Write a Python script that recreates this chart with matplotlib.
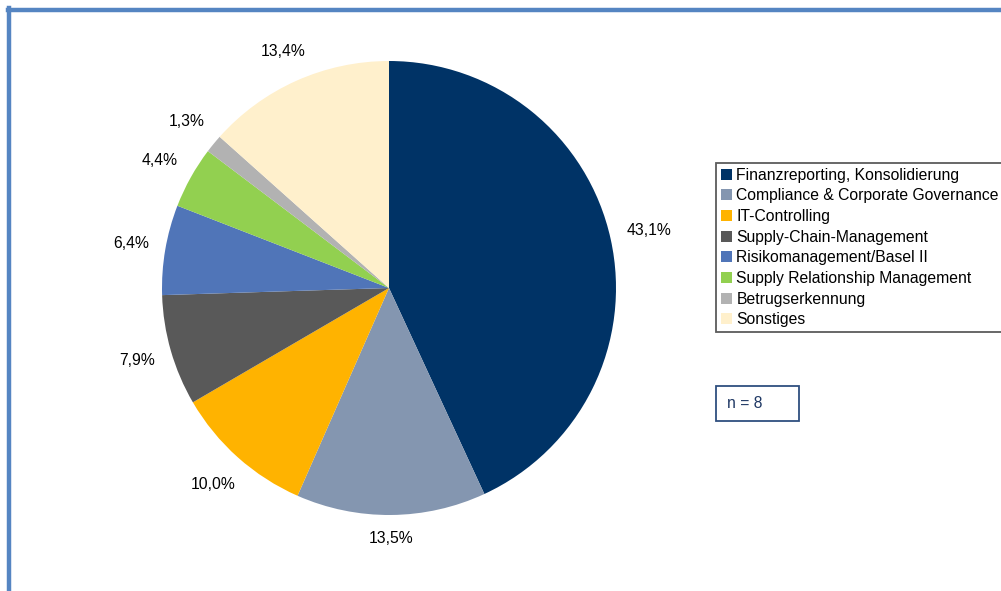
import numpy as np
import matplotlib.pyplot as plt
from matplotlib.patches import Rectangle
from matplotlib.lines import Line2D

plt.rcParams['font.family'] = ['Liberation Sans', 'DejaVu Sans']

categories = ['Finanzreporting, Konsolidierung', 'Compliance & Corporate Governance',
              'IT-Controlling', 'Supply-Chain-Management', 'Risikomanagement/Basel II',
              'Supply Relationship Management', 'Betrugserkennung', 'Sonstiges']
shares = [43.1, 13.5, 10.0, 7.9, 6.4, 4.4, 1.3, 13.4]
colors = ['#003366', '#8496B0', '#FFB300', '#595959', '#5075B8', '#92D050', '#B2B2B2', '#FFF0CC']
sample_note = 'n = 8'

W, H = 1001, 591
fig = plt.figure(figsize=(W / 100, H / 100), dpi=100)

# pie centre and radius in pixels
cx, cy, r = 389, 288, 227
lim = 1.3
side = 2 * r * lim
ax = fig.add_axes([(cx - side / 2) / W, (H - cy - side / 2) / H, side / W, side / H])
wedges, texts, autotexts = ax.pie(
    shares, colors=colors, startangle=90, counterclock=False, radius=1,
    wedgeprops=dict(linewidth=0),
    autopct=lambda p: f'{p:.1f}%'.replace('.', ','), pctdistance=1.15,
    textprops=dict(fontsize=11.3, color='black'))
ax.set_xlim(-lim, lim)
ax.set_ylim(-lim, lim)
ax.axis('off')

# push each label out so its box sits a fixed gap outside the rim
gap = 16 / r
renderer = fig.canvas.get_renderer()
for w, t in zip(wedges, autotexts):
    ang = np.deg2rad((w.theta1 + w.theta2) / 2)
    bb = t.get_window_extent(renderer)
    half_w, half_h = bb.width / 2 / r, bb.height / 2 / r
    d = 1 + gap + abs(np.cos(ang)) * half_w + abs(np.sin(ang)) * half_h
    t.set_position((d * np.cos(ang), d * np.sin(ang)))

leg = fig.legend(wedges, categories, loc='upper left',
                 bbox_to_anchor=(716 / W, 1 - 163 / H), fontsize=11.3,
                 frameon=True, fancybox=False, edgecolor='#333333',
                 handlelength=0.7, handleheight=0.7, handletextpad=0.3,
                 labelspacing=0.36, borderpad=0.3, borderaxespad=0)
leg.get_frame().set_linewidth(1.3)

# sample size box
fig.patches.append(Rectangle((716 / W, 1 - 421 / H), 83 / W, 35 / H,
                             transform=fig.transFigure, facecolor='white',
                             edgecolor='#2F4F7F', linewidth=1.3))
fig.text(727 / W, 1 - 403 / H, sample_note, fontsize=11.3, color='#1F3864', va='center')

# outer frame (left and top edges)
frame_kw = dict(transform=fig.transFigure, color='#5585C2', linewidth=3.2)
fig.add_artist(Line2D([9 / W, 9 / W], [0, 1 - 8 / H], **frame_kw))
fig.add_artist(Line2D([7.5 / W, 1], [1 - 10 / H, 1 - 10 / H], **frame_kw))

fig.savefig('out.png', dpi=100)
